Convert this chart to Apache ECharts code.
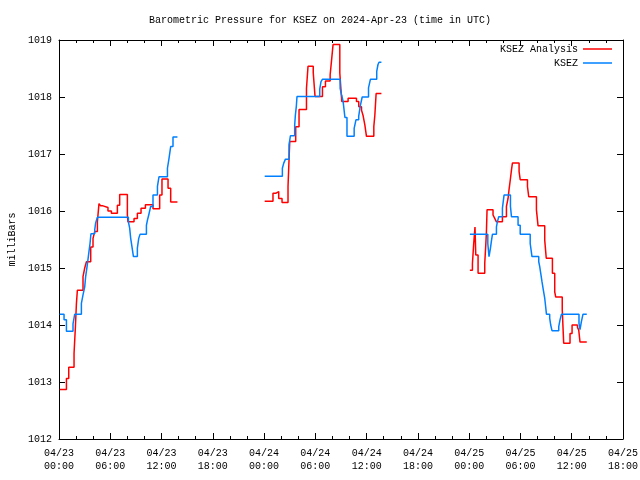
<!DOCTYPE html>
<html><head><meta charset="utf-8">
<script src="https://cdn.jsdelivr.net/npm/echarts@6/dist/echarts.min.js"></script>
<style>html,body{margin:0;padding:0;background:#fff}#c{width:640px;height:480px}</style>
</head><body><div id="c"></div>
<script>
// Hours since 2024-04-23 00:00 UTC; null marks a data gap
const analysisHours = [0.1,0.87,1.14,1.76,1.92,2.04,2.15,2.81,3.01,3.21,3.71,3.98,4.18,4.49,4.68,4.88,5.15,5.73,6.13,6.83,7.10,8.00,8.07,8.78,9.17,9.60,10.11,11.0,11.78,12.05,12.76,13.07,13.86,
  null,
  24.07,25.04,25.36,25.71,26.10,26.80,27.0,27.70,28.09,28.96,29.14,29.75,29.96,30.83,31.18,31.73,31.88,32.07,32.86,33.09,33.83,34.81,35.08,35.40,35.59,35.79,35.98,36.84,36.96,37.11,37.73,
  null,
  48.08,48.38,48.53,48.68,48.77,49.04,49.82,49.94,50.02,50.09,50.79,50.99,51.19,51.89,52.36,52.55,52.66,52.83,52.95,53.06,53.84,53.97,54.82,54.97,55.87,56.06,56.84,57.02,57.74,58.01,58.13,58.89,59.06,59.80,60.04,60.67,60.82,60.97,61.76];
const analysisValues = [1012.87,1013.06,1013.26,1013.50,1013.97,1014.38,1014.61,1014.85,1015.0,1015.11,1015.37,1015.52,1015.64,1015.81,1016.13,1016.09,1016.06,1016.0,1015.96,1016.1,1016.29,1015.93,1015.81,1015.87,1015.96,1016.05,1016.11,1016.04,1016.28,1016.56,1016.40,1016.16,1016.16,
  null,
  1016.17,1016.31,1016.34,1016.22,1016.15,1016.43,1017.22,1017.48,1017.78,1018.15,1018.54,1018.43,1018.01,1018.18,1018.28,1018.39,1018.62,1018.92,1018.42,1017.92,1017.98,1017.92,1017.83,1017.77,1017.67,1017.51,1017.31,1017.48,1017.68,1018.06,1018.06,
  null,
  1014.96,1015.08,1015.43,1015.72,1015.23,1014.91,1015.08,1015.40,1015.64,1016.02,1015.93,1015.87,1015.81,1015.90,1016.08,1016.22,1016.37,1016.57,1016.72,1016.84,1016.69,1016.55,1016.43,1016.25,1016.02,1015.74,1015.49,1015.17,1014.91,1014.58,1014.49,1014.27,1013.68,1013.85,1014.0,1013.96,1013.91,1013.70,1013.70];

const stationHours = [0.08,0.59,0.87,1.64,1.84,2.62,2.81,3.01,3.12,3.28,3.51,3.63,3.74,4.18,4.29,4.49,8.12,8.27,8.39,8.54,8.71,9.17,9.33,9.48,10.23,10.35,10.50,10.73,11.0,11.52,11.70,12.69,12.87,13.07,13.34,13.86,
  null,
  24.07,26.14,26.30,26.50,26.92,27.08,27.58,27.66,27.78,27.85,30.51,30.66,30.82,32.90,33.08,33.25,33.46,33.70,34.54,34.75,35.07,35.25,35.48,36.22,36.44,37.18,37.33,37.45,37.73,
  null,
  48.08,50.18,50.32,50.49,50.60,50.72,51.19,51.30,51.46,51.89,52.08,52.83,52.95,53.72,53.97,55.14,55.35,56.14,56.25,56.37,56.52,56.68,56.84,56.95,57.04,57.42,57.54,57.69,58.48,58.63,58.80,60.85,60.97,61.13,61.32,61.76];
const stationValues = [1014.19,1014.09,1013.89,1014.02,1014.19,1014.38,1014.53,1014.67,1014.85,1015.02,1015.29,1015.43,1015.6,1015.67,1015.79,1015.89,1015.81,1015.70,1015.52,1015.37,1015.2,1015.35,1015.52,1015.59,1015.75,1015.84,1015.93,1016.08,1016.28,1016.43,1016.60,1016.75,1016.92,1017.13,1017.30,1017.30,
  null,
  1016.61,1016.75,1016.84,1016.91,1017.16,1017.32,1017.51,1017.68,1017.85,1018.01,1018.14,1018.27,1018.31,1018.15,1018.03,1017.92,1017.64,1017.31,1017.45,1017.60,1017.66,1017.84,1018.0,1018.16,1018.31,1018.45,1018.57,1018.61,1018.61,
  null,
  1015.59,1015.43,1015.2,1015.35,1015.47,1015.59,1015.72,1015.81,1015.90,1016.05,1016.28,1016.08,1015.90,1015.75,1015.59,1015.43,1015.2,1015.11,1015.03,1014.91,1014.76,1014.61,1014.47,1014.32,1014.19,1014.12,1014.0,1013.90,1013.97,1014.09,1014.19,1014.03,1013.92,1014.06,1014.19,1014.19];

const seriesNames = ['KSEZ Analysis', 'KSEZ'];
const seriesColors = ['#ff0000', '#0080ff'];
const titleText = 'Barometric Pressure for KSEZ on 2024-Apr-23 (time in UTC)';
const yName = 'milliBars';

const FONT = '"Liberation Mono", "DejaVu Sans Mono", monospace';
// split at null markers into separate runs (data gaps)
function segments(h, v) {
  const out = []; let cur = [];
  h.forEach((x, i) => {
    if (x === null || v[i] === null) { if (cur.length) out.push(cur); cur = []; }
    else cur.push([x, v[i]]);
  });
  if (cur.length) out.push(cur);
  return out;
}
function fmtX(h) {
  const day = 23 + Math.floor(h / 24);
  const hr = h % 24;
  return '04/' + day + '\n' + (hr < 10 ? '0' : '') + hr + ':00';
}
function makeSeries(name, color, h, v) {
  return segments(h, v).map(seg => ({
    name: name, type: 'line', step: 'end', data: seg, showSymbol: false, symbol: 'none',
    color: color, lineStyle: { color: color, width: 1.5 }, itemStyle: { color: color }
  }));
}
const chart = echarts.init(document.getElementById('c'), null, { renderer: 'canvas' });
const axisCommon = {
  axisLine: { show: true, onZero: false, lineStyle: { color: '#000', width: 1 } },
  axisTick: { show: true, inside: true, length: 6, lineStyle: { color: '#000' } },
  splitLine: { show: false }
};
const legendText = { fontFamily: FONT, fontSize: 10, color: '#000' };
chart.setOption({
  animation: false,
  backgroundColor: '#fff',
  title: { text: titleText, left: 'center', top: 10, textStyle: { fontFamily: FONT, fontSize: 10, fontWeight: 'normal', color: '#000' } },
  legend: [
    { data: [seriesNames[0]], right: 23, top: 39, orient: 'vertical', align: 'right', icon: 'rect', itemWidth: 29, itemHeight: 1.5,
      textStyle: legendText, selectedMode: false },
    { data: [seriesNames[1]], right: 23, top: 53, orient: 'vertical', align: 'right', icon: 'rect', itemWidth: 29, itemHeight: 1.5,
      textStyle: legendText, selectedMode: false }
  ],
  grid: { left: 59, right: 17, top: 40, bottom: 41, containLabel: false, outerBoundsMode: 'none' },
  xAxis: [
    Object.assign({}, axisCommon, { type: 'value', min: 0, max: 66, interval: 6, position: 'bottom',
      minorTick: { show: true, splitNumber: 3, length: 3, lineStyle: { color: '#000' } },
      axisLabel: { formatter: fmtX, fontFamily: FONT, fontSize: 10, color: '#000', margin: 8, lineHeight: 13 } }),
    Object.assign({}, axisCommon, { type: 'value', min: 0, max: 66, interval: 6, position: 'top',
      minorTick: { show: true, splitNumber: 3, length: 3, lineStyle: { color: '#000' } },
      axisLabel: { show: false } })
  ],
  yAxis: [
    Object.assign({}, axisCommon, { type: 'value', min: 1012, max: 1019, interval: 1, position: 'left',
      name: yName, nameLocation: 'middle', nameGap: 42, nameRotate: 90,
      nameTextStyle: { fontFamily: FONT, fontSize: 10, color: '#000' },
      axisLabel: { fontFamily: FONT, fontSize: 10, color: '#000', margin: 7, formatter: v => String(v) } }),
    Object.assign({}, axisCommon, { type: 'value', min: 1012, max: 1019, interval: 1, position: 'right',
      axisLabel: { show: false } })
  ],
  series: makeSeries(seriesNames[0], seriesColors[0], analysisHours, analysisValues)
    .concat(makeSeries(seriesNames[1], seriesColors[1], stationHours, stationValues))
});
</script></body></html>
